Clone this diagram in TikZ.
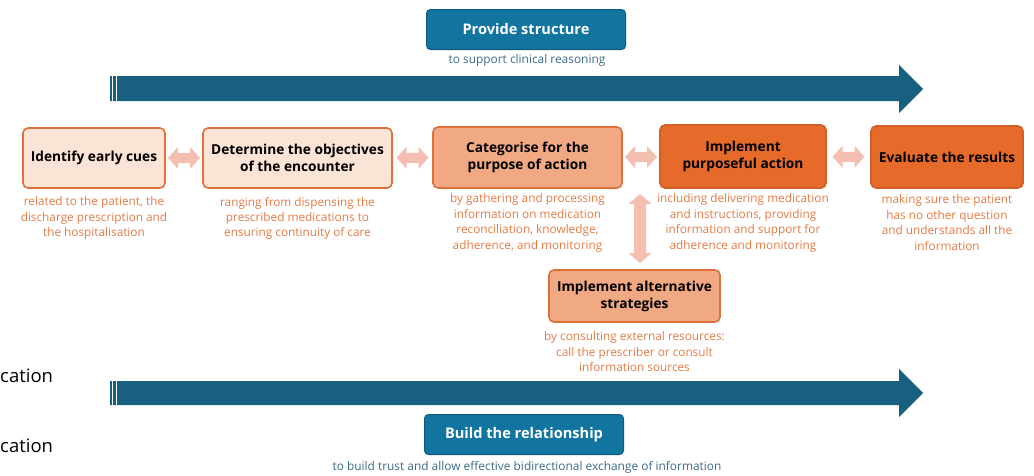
\documentclass[tikz,border=0pt]{standalone}
\usepackage{fontspec}
\setmainfont{Open Sans}
\usetikzlibrary{calc}
\definecolor{bluefill}{HTML}{1275A0}
\definecolor{bluedark}{HTML}{0C5A7C}
\definecolor{arrowblue}{HTML}{17607F}
\definecolor{bluetext}{HTML}{3A6B85}
\definecolor{orline}{HTML}{E0703A}
\definecolor{orlight}{HTML}{FBE3D6}
\definecolor{ormid}{HTML}{F1A983}
\definecolor{ordark}{HTML}{E66A2A}
\definecolor{ortext}{HTML}{E27A44}
\definecolor{pinkarrow}{HTML}{F4BEB0}
\tikzset{
  x=1pt,y=-1pt,
  bluebox/.style={draw=bluedark, fill=bluefill, rounded corners=4pt, line width=1pt,
    text=white, font=\bfseries\fontsize{14.6}{17}\selectfont,
    minimum width=199pt, minimum height=40pt, inner sep=0pt},
  bluesub/.style={text=bluetext, font=\fontsize{11.9}{14}\selectfont, inner sep=0pt},
  stepbox/.style={draw=orline, rounded corners=5pt, line width=1.6pt,
    font=\bfseries\fontsize{13.7}{17}\selectfont, align=center, inner sep=0pt},
  lightbox/.style={stepbox, fill=orlight},
  midbox/.style={stepbox, fill=ormid},
  darkbox/.style={stepbox, fill=ordark, draw=ordark!90!black},
  desc/.style={text=ortext, font=\fontsize{11.8}{15.4}\selectfont, align=center, inner sep=0pt, anchor=north},
  bigarrow/.style={fill=arrowblue},
  cut/.style={font=\fontsize{18.5}{20}\selectfont, anchor=west, inner sep=0pt}
}
% #1 centre, #2 rotation, #3 half length, #4 head half width, #5 body half width, #6 head length
\newcommand\dblarr[6]{%
  \begin{scope}[shift={(#1)}, rotate=#2]
    \fill[pinkarrow] (-#3,0) -- (-#3+#6,-#4) -- (-#3+#6,-#5) -- (#3-#6,-#5) -- (#3-#6,-#4) -- (#3,0)
      -- (#3-#6,#4) -- (#3-#6,#5) -- (-#3+#6,#5) -- (-#3+#6,#4) -- cycle;
  \end{scope}}
\begin{document}
\begin{tikzpicture}
\useasboundingbox (0,0) rectangle (1034,475);
% top
\node[bluebox] (top) at (526,29.5) {Provide structure};
\node[bluesub] (topsub) at (527,60) {to support clinical reasoning};
\fill[bigarrow] (110,76) -- (899,76) -- (899,65) -- (923,89) -- (899,113) -- (899,101) -- (110,101) -- cycle;
\draw[white, line width=0.6pt] (112.5,76) -- (112.5,101) (116,76) -- (116,101);
% boxes
\node[lightbox, minimum width=142pt, minimum height=60pt] (b1) at (94,158) {Identify early cues};
\node[lightbox, minimum width=189pt, minimum height=60pt] (b2) at (297.5,158) {Determine the objectives\\of the encounter};
\node[midbox, minimum width=189pt, minimum height=61pt] (b3) at (527.5,157.5) {Categorise for the\\purpose of action};
\node[darkbox, minimum width=166pt, minimum height=63pt] (b4) at (743,156.5) {Implement\\purposeful action};
\node[darkbox, minimum width=152pt, minimum height=62pt] (b5) at (947,157) {Evaluate the results};
\node[midbox, minimum width=171pt, minimum height=52pt] (b6) at (634.5,296) {Implement alternative\\strategies};
% descriptions
\node[desc] (d1) at ([yshift=-8pt]b1.south) {related to the patient, the\\discharge prescription and\\the hospitalisation};
\node[desc] (d2) at ([yshift=-8pt]b2.south) {ranging from dispensing the\\prescribed medications to\\ensuring continuity of care};
\node[desc] (d3) at ([yshift=-5pt]b3.south) {by gathering and processing\\information on medication\\reconciliation, knowledge,\\adherence, and monitoring};
\node[desc] (d4) at ([yshift=-5pt]b4.south) {including delivering medication\\and instructions, providing\\information and support for\\adherence and monitoring};
\node[desc] (d5) at ([yshift=-6pt]b5.south) {making sure the patient\\has no other question\\and understands all the\\information};
\node[desc] (d6) at ([yshift=-9pt]b6.south) {by consulting external resources:\\call the prescriber or consult\\information sources};
% double arrows between named boxes
\coordinate (a12) at ($(b1.east)!0.5!(b2.west)$);
\coordinate (a23) at ($(b2.east)!0.5!(b3.west)$);
\coordinate (a34) at ($(b3.east)!0.5!(b4.west)$);
\coordinate (a45) at ($(b4.east)!0.5!(b5.west)$);
\coordinate (a36) at (640,228.5);
\dblarr{a12}{0}{16}{11}{5}{10}
\dblarr{a23}{0}{16}{11}{5}{10}
\dblarr{a34}{0}{16}{11}{5}{10}
\dblarr{a45}{0}{16}{11}{5}{10}
\dblarr{a36}{90}{34.5}{11.5}{6}{10}
% bottom
\node[cut] (c1) at (0,376) {cation};
\node[cut] (c2) at (0,446) {cation};
\fill[bigarrow] (110,381) -- (899,381) -- (899,369) -- (923,393) -- (899,417) -- (899,405) -- (110,405) -- cycle;
\draw[white, line width=0.6pt] (112.5,381) -- (112.5,405) (116,381) -- (116,405);
\node[bluebox] (bot) at (524,434.5) {Build the relationship};
\node[bluesub] (botsub) at (527,467) {to build trust and allow effective bidirectional exchange of information};
\end{tikzpicture}
\end{document}
